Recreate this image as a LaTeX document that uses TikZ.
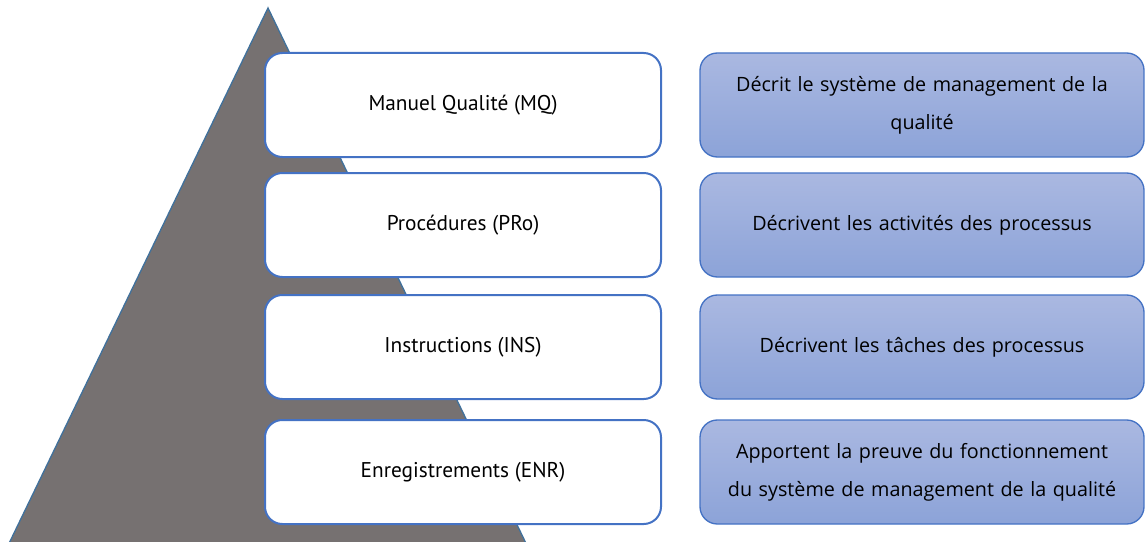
\documentclass[tikz,border=0pt]{standalone}
\usepackage{fontspec}
\setmainfont{Open Sans}
\newfontfamily\leftfont{PT Sans}
\usetikzlibrary{positioning}

\definecolor{msblue}{HTML}{4472C4}
\definecolor{triblue}{HTML}{41719C}
\definecolor{trigray}{HTML}{767171}
\definecolor{gradtop}{HTML}{AAB8E1}
\definecolor{gradbot}{HTML}{8CA3D8}

\tikzset{
	docbox/.style={rectangle,rounded corners=13pt,draw=msblue,line width=1.5pt,fill=white,
		minimum width=297pt,minimum height=78pt,font=\leftfont\fontsize{16}{19}\selectfont},
	descbox/.style={rectangle,rounded corners=13pt,draw=msblue,line width=1pt,
		top color=gradtop,bottom color=gradbot,minimum width=333pt,minimum height=78pt,
		text width=320pt,align=center,font=\fontsize{14.8}{28.5}\selectfont}
}

\begin{document}
\begin{tikzpicture}[x=0.75pt,y=-0.75pt]
		\useasboundingbox (0,0) rectangle (1145,542);
		\clip (0,0) rectangle (1145,542);
		\path (268,8) coordinate (apex);
		\path (1,560) coordinate (base_l);
		\path (534,560) coordinate (base_r);

		\path (463,105) coordinate (mq);
		\path (463,225) coordinate (pro);
		\path (463,347) coordinate (ins);
		\path (463,472) coordinate (enr);

		\path (922,105) coordinate (mq_d);
		\path (922,225) coordinate (pro_d);
		\path (922,347) coordinate (ins_d);
		\path (922,472) coordinate (enr_d);

		% pyramide
		\draw[fill=trigray,draw=triblue,line width=1pt] (apex) -- (base_l) -- (base_r) -- cycle;

		\draw (mq) node(mq_box) [docbox] {Manuel Qualité (MQ)};
		\draw (pro) node(pro_box) [docbox] {Procédures (PRo)};
		\draw (ins) node(ins_box) [docbox] {Instructions (INS)};
		\draw (enr) node(enr_box) [docbox] {Enregistrements (ENR)};

		\draw (mq_d) node(mq_desc) [descbox] {Décrit le système de management de la\\qualité};
		\draw (pro_d) node(pro_desc) [descbox] {Décrivent les activités des processus};
		\draw (ins_d) node(ins_desc) [descbox] {Décrivent les tâches des processus};
		\draw (enr_d) node(enr_desc) [descbox] {Apportent la preuve du fonctionnement\\du système de management de la qualité};
	\end{tikzpicture}
\end{document}
